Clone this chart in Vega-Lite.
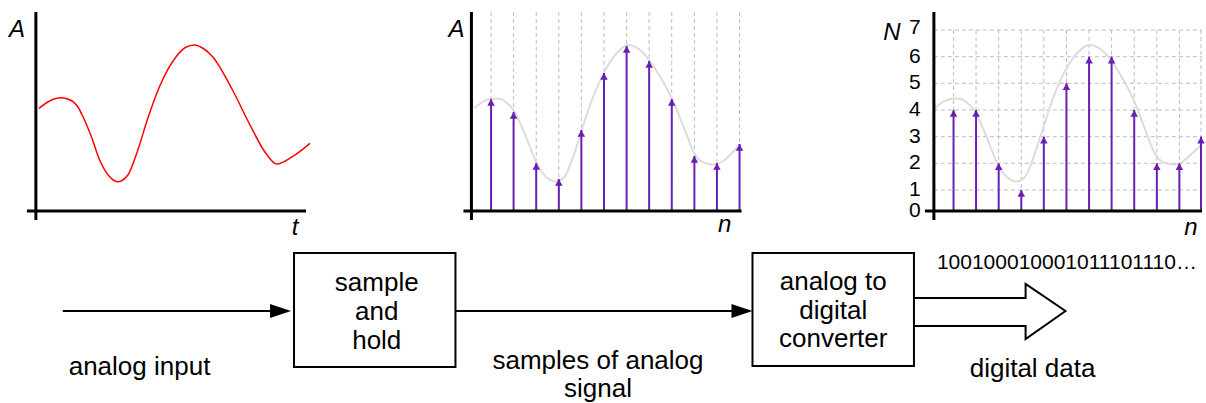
{
  "$schema": "https://vega.github.io/schema/vega-lite/v6.json",
  "width": 1206,
  "height": 403,
  "autosize": {"type": "fit", "contains": "padding"},
  "padding": 0,
  "background": "white",
  "config": {"view": {"stroke": null}, "text": {"font": "Liberation Sans"}},
  "datasets": {
    "axes": [
      {"x": 36, "y": 12, "x2": 36, "y2": 220},
      {"x": 27, "y": 211, "x2": 307, "y2": 211},
      {"x": 473, "y": 12, "x2": 473, "y2": 220},
      {"x": 465, "y": 211, "x2": 744, "y2": 211},
      {"x": 937, "y": 12, "x2": 937, "y2": 220},
      {"x": 928, "y": 211, "x2": 1206, "y2": 211}
    ],
    "grid": [
      {"x": 492.7, "y": 12, "x2": 492.7, "y2": 211},
      {"x": 515.3, "y": 12, "x2": 515.3, "y2": 211},
      {"x": 538, "y": 12, "x2": 538, "y2": 211},
      {"x": 560.7, "y": 12, "x2": 560.7, "y2": 211},
      {"x": 583.3, "y": 12, "x2": 583.3, "y2": 211},
      {"x": 606, "y": 12, "x2": 606, "y2": 211},
      {"x": 628.7, "y": 12, "x2": 628.7, "y2": 211},
      {"x": 651.3, "y": 12, "x2": 651.3, "y2": 211},
      {"x": 674, "y": 12, "x2": 674, "y2": 211},
      {"x": 696.7, "y": 12, "x2": 696.7, "y2": 211},
      {"x": 719.3, "y": 12, "x2": 719.3, "y2": 211},
      {"x": 742, "y": 12, "x2": 742, "y2": 211},
      {"x": 956.7, "y": 30, "x2": 956.7, "y2": 211},
      {"x": 979.3, "y": 30, "x2": 979.3, "y2": 211},
      {"x": 1002, "y": 30, "x2": 1002, "y2": 211},
      {"x": 1024.7, "y": 30, "x2": 1024.7, "y2": 211},
      {"x": 1047.3, "y": 30, "x2": 1047.3, "y2": 211},
      {"x": 1070, "y": 30, "x2": 1070, "y2": 211},
      {"x": 1092.7, "y": 30, "x2": 1092.7, "y2": 211},
      {"x": 1115.3, "y": 30, "x2": 1115.3, "y2": 211},
      {"x": 1138, "y": 30, "x2": 1138, "y2": 211},
      {"x": 1160.7, "y": 30, "x2": 1160.7, "y2": 211},
      {"x": 1183.3, "y": 30, "x2": 1183.3, "y2": 211},
      {"x": 1205, "y": 30, "x2": 1205, "y2": 211},
      {"x": 937, "y": 30, "x2": 1206, "y2": 30},
      {"x": 937, "y": 56.7, "x2": 1206, "y2": 56.7},
      {"x": 937, "y": 83.3, "x2": 1206, "y2": 83.3},
      {"x": 937, "y": 110, "x2": 1206, "y2": 110},
      {"x": 937, "y": 136.7, "x2": 1206, "y2": 136.7},
      {"x": 937, "y": 163.3, "x2": 1206, "y2": 163.3},
      {"x": 937, "y": 190, "x2": 1206, "y2": 190}
    ],
    "analog": [
      {"x": 39, "y": 108.3}, {"x": 48, "y": 102}, {"x": 55, "y": 98.8}, {"x": 60.7, "y": 97.7},
      {"x": 67, "y": 98.8}, {"x": 73.3, "y": 101.7}, {"x": 78.5, "y": 107.5}, {"x": 83.3, "y": 116.7},
      {"x": 91.7, "y": 136.7}, {"x": 100, "y": 160}, {"x": 110, "y": 176.7}, {"x": 118.3, "y": 181.7},
      {"x": 128.3, "y": 175}, {"x": 138.3, "y": 150}, {"x": 148.3, "y": 118.3}, {"x": 160, "y": 86.7},
      {"x": 176.7, "y": 56.7}, {"x": 186, "y": 47.5}, {"x": 195, "y": 45}, {"x": 204, "y": 48.5},
      {"x": 213.3, "y": 56.7}, {"x": 233.3, "y": 90}, {"x": 250, "y": 123.3}, {"x": 266.7, "y": 153.3},
      {"x": 277.7, "y": 164}, {"x": 293.3, "y": 156.7}, {"x": 311, "y": 143.3}
    ],
    "ghost": [
      {"s": 2, "x": 476, "y": 108.3}, {"s": 2, "x": 484, "y": 102}, {"s": 2, "x": 493, "y": 98.8}, {"s": 2, "x": 500, "y": 98.5},
      {"s": 2, "x": 508, "y": 102.5}, {"s": 2, "x": 515.7, "y": 111}, {"s": 2, "x": 527, "y": 135}, {"s": 2, "x": 538, "y": 162},
      {"s": 2, "x": 548, "y": 177}, {"s": 2, "x": 558, "y": 181.5}, {"s": 2, "x": 567, "y": 176}, {"s": 2, "x": 575, "y": 157},
      {"s": 2, "x": 583.7, "y": 130}, {"s": 2, "x": 595, "y": 97}, {"s": 2, "x": 606.3, "y": 72}, {"s": 2, "x": 618, "y": 54},
      {"s": 2, "x": 630, "y": 45}, {"s": 2, "x": 641, "y": 49}, {"s": 2, "x": 651.7, "y": 60.5}, {"s": 2, "x": 663, "y": 78},
      {"s": 2, "x": 674.3, "y": 99}, {"s": 2, "x": 686, "y": 127}, {"s": 2, "x": 697, "y": 154}, {"s": 2, "x": 707, "y": 163},
      {"s": 2, "x": 716, "y": 164.5}, {"s": 2, "x": 725, "y": 161.5}, {"s": 2, "x": 734, "y": 153.5}, {"s": 2, "x": 743, "y": 144},
      {"s": 3, "x": 938, "y": 108.3}, {"s": 3, "x": 946, "y": 102}, {"s": 3, "x": 955, "y": 98.8}, {"s": 3, "x": 962, "y": 98.5},
      {"s": 3, "x": 970, "y": 102.5}, {"s": 3, "x": 978, "y": 111}, {"s": 3, "x": 989, "y": 135}, {"s": 3, "x": 1000, "y": 162},
      {"s": 3, "x": 1010, "y": 177}, {"s": 3, "x": 1020, "y": 181.5}, {"s": 3, "x": 1029, "y": 176}, {"s": 3, "x": 1037, "y": 157},
      {"s": 3, "x": 1046, "y": 130}, {"s": 3, "x": 1057, "y": 97}, {"s": 3, "x": 1068, "y": 72}, {"s": 3, "x": 1080, "y": 54},
      {"s": 3, "x": 1093, "y": 45}, {"s": 3, "x": 1104, "y": 49}, {"s": 3, "x": 1115, "y": 60.5}, {"s": 3, "x": 1126, "y": 78},
      {"s": 3, "x": 1137, "y": 99}, {"s": 3, "x": 1148, "y": 127}, {"s": 3, "x": 1159, "y": 154}, {"s": 3, "x": 1169, "y": 163},
      {"s": 3, "x": 1178, "y": 164.5}, {"s": 3, "x": 1187, "y": 161.5}, {"s": 3, "x": 1196, "y": 153.5}, {"s": 3, "x": 1206, "y": 144}
    ],
    "stems": [
      {"x": 492.7, "y": 99}, {"x": 515.3, "y": 112}, {"x": 538, "y": 163}, {"x": 560.7, "y": 179},
      {"x": 583.3, "y": 130}, {"x": 606, "y": 73}, {"x": 628.7, "y": 46}, {"x": 651.3, "y": 61},
      {"x": 674, "y": 99}, {"x": 696.7, "y": 156}, {"x": 719.3, "y": 163}, {"x": 742, "y": 144},
      {"x": 956.7, "y": 110}, {"x": 979.3, "y": 110}, {"x": 1002, "y": 163.3}, {"x": 1024.7, "y": 190},
      {"x": 1047.3, "y": 136.7}, {"x": 1070, "y": 83.3}, {"x": 1092.7, "y": 56.7}, {"x": 1115.3, "y": 56.7},
      {"x": 1138, "y": 110}, {"x": 1160.7, "y": 163.3}, {"x": 1183.3, "y": 163.3}, {"x": 1205, "y": 136.7}
    ],
    "boxes": [
      {"x": 295, "y": 253, "x2": 457, "y2": 367},
      {"x": 755, "y": 253, "x2": 917, "y2": 366}
    ],
    "flow": [
      {"x": 63, "y": 311, "x2": 275, "y2": 311},
      {"x": 457, "y": 311, "x2": 740, "y2": 311}
    ],
    "heads": [
      {"x": 292, "y": 311},
      {"x": 755, "y": 311}
    ],
    "bigArrow": [
      {"i": 1, "x": 917, "y": 298},
      {"i": 2, "x": 1029, "y": 298},
      {"i": 3, "x": 1029, "y": 284},
      {"i": 4, "x": 1069, "y": 311},
      {"i": 5, "x": 1029, "y": 339},
      {"i": 6, "x": 1029, "y": 326},
      {"i": 7, "x": 917, "y": 326}
    ],
    "italicLabels": [
      {"x": 17, "y": 30, "t": "A"},
      {"x": 458, "y": 30, "t": "A"},
      {"x": 895, "y": 33, "t": "N"},
      {"x": 296, "y": 228, "t": "t"},
      {"x": 727, "y": 225, "t": "n"},
      {"x": 1195, "y": 228, "t": "n"}
    ],
    "ticks": [
      {"x": 918, "y": 211, "t": "0"},
      {"x": 918, "y": 190, "t": "1"},
      {"x": 918, "y": 163.3, "t": "2"},
      {"x": 918, "y": 136.7, "t": "3"},
      {"x": 918, "y": 110, "t": "4"},
      {"x": 918, "y": 83.3, "t": "5"},
      {"x": 918, "y": 56.7, "t": "6"},
      {"x": 918, "y": 28, "t": "7"}
    ],
    "blockText": [
      {"x": 378, "y": 283, "t": "sample"},
      {"x": 378, "y": 312, "t": "and"},
      {"x": 378, "y": 341, "t": "hold"},
      {"x": 836, "y": 282, "t": "analog to"},
      {"x": 836, "y": 311, "t": "digital"},
      {"x": 836, "y": 339, "t": "converter"},
      {"x": 140, "y": 367, "t": "analog input"},
      {"x": 600, "y": 361, "t": "samples of analog"},
      {"x": 600, "y": 389, "t": "signal"},
      {"x": 1036, "y": 369, "t": "digital data"}
    ],
    "bits": [
      {"x": 940, "y": 263, "t": "100100010001011101110…"}
    ]
  },
  "encoding": {
    "x": {"field": "x", "type": "quantitative", "axis": null, "scale": {"domain": [0, 1206], "nice": false, "zero": false}},
    "y": {"field": "y", "type": "quantitative", "axis": null, "scale": {"domain": [0, 403], "nice": false, "zero": false, "reverse": true}}
  },
  "layer": [
    {
      "data": {"name": "grid"},
      "mark": {"type": "rule", "color": "#bdbdbd", "strokeWidth": 1, "strokeDash": [4, 3]},
      "encoding": {"x2": {"field": "x2"}, "y2": {"field": "y2"}}
    },
    {
      "data": {"name": "analog"},
      "mark": {"type": "line", "color": "#ff0000", "strokeWidth": 1.5, "interpolate": "monotone"},
      "encoding": {}
    },
    {
      "data": {"name": "ghost"},
      "mark": {"type": "line", "color": "#dcdcdc", "strokeWidth": 2, "interpolate": "monotone"},
      "encoding": {"detail": {"field": "s"}}
    },
    {
      "data": {"name": "stems"},
      "mark": {"type": "rule", "color": "#6a1fb4", "strokeWidth": 2},
      "encoding": {"y2": {"datum": 211}}
    },
    {
      "data": {"name": "stems"},
      "mark": {"type": "point", "shape": "M0,0L-1,1.8L1,1.8Z", "size": 56, "filled": true, "color": "#6a1fb4", "opacity": 1, "strokeWidth": 0},
      "encoding": {}
    },
    {
      "data": {"name": "axes"},
      "mark": {"type": "rule", "color": "#000000", "strokeWidth": 3},
      "encoding": {"x2": {"field": "x2"}, "y2": {"field": "y2"}}
    },
    {
      "data": {"name": "boxes"},
      "mark": {"type": "rect", "color": "#555555", "xOffset": 4, "yOffset": 4},
      "encoding": {"x2": {"field": "x2"}, "y2": {"field": "y2"}}
    },
    {
      "data": {"name": "boxes"},
      "mark": {"type": "rect", "fill": "#ffffff", "stroke": "#000000", "strokeWidth": 2},
      "encoding": {"x2": {"field": "x2"}, "y2": {"field": "y2"}}
    },
    {
      "data": {"name": "flow"},
      "mark": {"type": "rule", "color": "#000000", "strokeWidth": 2},
      "encoding": {"x2": {"field": "x2"}, "y2": {"field": "y2"}}
    },
    {
      "data": {"name": "heads"},
      "mark": {"type": "point", "shape": "M-2,-0.67L0,0L-2,0.67Z", "size": 441, "filled": true, "color": "#000000", "opacity": 1, "strokeWidth": 0},
      "encoding": {}
    },
    {
      "data": {"name": "bigArrow"},
      "mark": {"type": "line", "color": "#000000", "strokeWidth": 2, "strokeJoin": "miter"},
      "encoding": {"order": {"field": "i", "type": "quantitative"}}
    },
    {
      "data": {"name": "italicLabels"},
      "mark": {"type": "text", "fontSize": 24, "fontStyle": "italic", "align": "center", "baseline": "middle", "color": "#000000"},
      "encoding": {"text": {"field": "t"}}
    },
    {
      "data": {"name": "ticks"},
      "mark": {"type": "text", "fontSize": 21, "align": "center", "baseline": "middle", "color": "#000000"},
      "encoding": {"text": {"field": "t"}}
    },
    {
      "data": {"name": "blockText"},
      "mark": {"type": "text", "fontSize": 26, "align": "center", "baseline": "middle", "color": "#000000"},
      "encoding": {"text": {"field": "t"}}
    },
    {
      "data": {"name": "bits"},
      "mark": {"type": "text", "fontSize": 21, "align": "left", "baseline": "middle", "color": "#000000"},
      "encoding": {"text": {"field": "t"}}
    }
  ]
}
